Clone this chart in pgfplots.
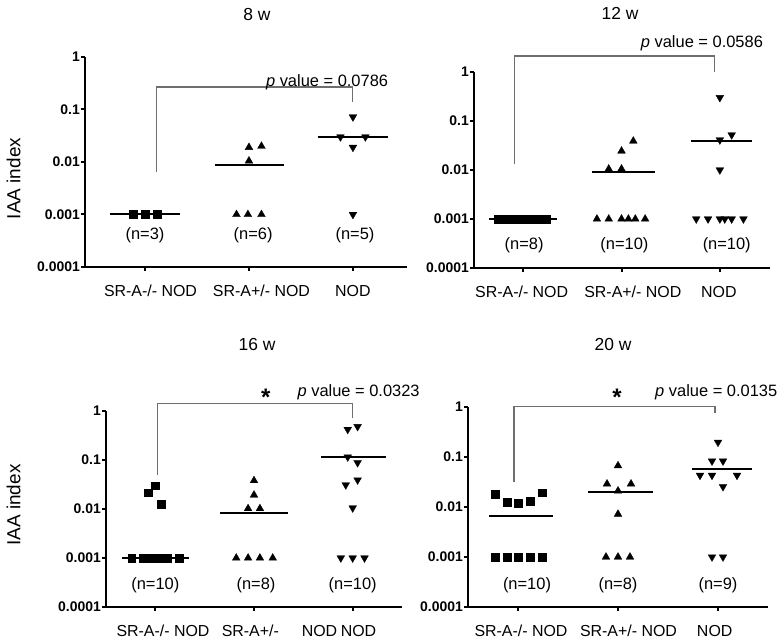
\documentclass[border=0pt]{standalone}
\usepackage{fontspec}
\setmainfont{Liberation Sans}
\usepackage{pgfplots}
\pgfplotsset{compat=1.18}
\definecolor{brk}{RGB}{110,110,110}
\newcommand{\lab}{\fontsize{16.5}{18}\selectfont}
\pgfplotsset{
    scale only axis,
    ymin=1e-4, ymax=1,
    ytick={1e-4,1e-3,1e-2,1e-1,1},
    yticklabels={0.0001,0.001,0.01,0.1,1},
    yticklabel style={font=\fontsize{14}{16}\selectfont\bfseries, inner sep=1bp},
    minor tick style={draw=none},
    xtick={0,1,2},
    xticklabel style={font=\fontsize{16}{18}\selectfont, inner sep=2bp, yshift=-12bp},
    axis x line=bottom, axis y line=left,
    axis line style={line width=2.2bp, -},
    tick align=outside,
    major tick length=4bp,
    major tick style={line width=2bp, black},
    clip=false,
    mysq/.style={only marks, mark=square*, mark size=3.9bp, black, mark options={line width=0.3bp}},
    myup/.style={only marks, mark=triangle*, mark size=4.5bp, black, mark options={line width=0.3bp}},
    mydn/.style={only marks, mark=triangle*, mark size=4.5bp, black, mark options={rotate=180, line width=0.3bp}},
    mymn/.style={no marks, black, line width=2bp},
}
\begin{document}
\begin{tikzpicture}
\useasboundingbox (0,0) rectangle (781bp,641bp);
% ---------------- 8 w
\begin{axis}[ymode=log, at={(85bp,374bp)}, anchor=south west, width=322bp, height=210bp, xmin=-0.577, xmax=2.52,
  xticklabels={\hspace*{11bp}SR-A-/- NOD, \hspace*{25bp}SR-A+/- NOD, NOD}]
\addplot[mysq] coordinates {(-0.115,0.001) (0,0.001) (0.115,0.001)};
\addplot[mymn] coordinates {(-0.34,0.001) (0.34,0.001)};
\addplot[myup] coordinates {(0.88,0.001) (0.99,0.001) (1.12,0.001) (1.0,0.0105) (1.0,0.019) (1.12,0.02)};
\addplot[mymn] coordinates {(0.67,0.0088) (1.34,0.0088)};
\addplot[mydn] coordinates {(2,0.072) (1.88,0.03) (2.12,0.03) (2,0.019) (2,0.001)};
\addplot[mymn] coordinates {(1.66,0.030) (2.34,0.030)};
\draw[brk, line width=1.1bp] (axis cs:0.115,0.0065) |- (axis cs:2,0.268) -- (axis cs:2,0.139);
\node[anchor=east, font=\lab, inner sep=0pt] at (axis cs:2.34,0.334) {\textit{p} value = 0.0786};
\node[font=\lab] at (axis cs:0,0.00041) {(n=3)};
\node[font=\lab] at (axis cs:1.04,0.00041) {(n=6)};
\node[font=\lab] at (axis cs:2.02,0.00041) {(n=5)};
\end{axis}
% ---------------- 12 w
\begin{axis}[ymode=log, at={(474bp,373bp)}, anchor=south west, width=296bp, height=196bp, xmin=-0.5, xmax=2.51,
  xticklabels={SR-A-/- NOD\hspace*{3bp}, \hspace*{22.6bp}SR-A+/- NOD, NOD\hspace*{2bp}}]
\addplot[mysq] coordinates {(-0.26,0.001) (-0.19,0.001) (-0.12,0.001) (-0.05,0.001) (0.02,0.001) (0.09,0.001) (0.16,0.001) (0.23,0.001)};
\addplot[mymn] coordinates {(-0.35,0.001) (0.34,0.001)};
\addplot[myup] coordinates {(0.75,0.001) (0.87,0.001) (1.0,0.001) (1.07,0.001) (1.14,0.001) (1.24,0.001) (0.87,0.0105) (1.0,0.0105) (1.0,0.0244) (1.12,0.039)};
\addplot[mymn] coordinates {(0.70,0.0091) (1.34,0.0091)};
\addplot[mydn] coordinates {(1.76,0.001) (1.88,0.001) (2.0,0.001) (2.05,0.001) (2.12,0.001) (2.24,0.001) (2.0,0.01) (2.0,0.041) (2.12,0.052) (2.0,0.30)};
\addplot[mymn] coordinates {(1.71,0.0396) (2.33,0.0396)};
\draw[brk, line width=1.1bp] (axis cs:-0.09,0.013) |- (axis cs:1.95,2.12) -- (axis cs:1.95,1.0);
\node[anchor=east, font=\lab, inner sep=0pt] at (axis cs:2.44,3.9) {\textit{p} value = 0.0586};
\node[font=\lab] at (axis cs:0.01,0.000295) {(n=8)};
\node[font=\lab] at (axis cs:1.03,0.000295) {(n=10)};
\node[font=\lab] at (axis cs:2.07,0.000295) {(n=10)};
\end{axis}
% ---------------- 16 w
\begin{axis}[ymode=log, at={(106bp,34bp)}, anchor=south west, width=296bp, height=196bp, xmin=-0.5, xmax=2.5,
  xticklabels={\hspace*{15.4bp}SR-A-/- NOD, \hspace*{51bp}SR-A+/-\hspace*{18.5bp} NOD, \hspace*{11.6bp}NOD}]
\addplot[mysq] coordinates {(-0.24,0.001) (-0.12,0.001) (-0.06,0.001) (0,0.001) (0.06,0.001) (0.12,0.001) (0.24,0.001) (-0.07,0.0215) (0,0.030) (0.06,0.0126)};
\addplot[mymn] coordinates {(-0.34,0.001) (0.34,0.001)};
\addplot[myup] coordinates {(0.82,0.001) (0.94,0.001) (1.06,0.001) (1.19,0.001) (0.94,0.0102) (1.06,0.0102) (1.0,0.0193) (1.0,0.038)};
\addplot[mymn] coordinates {(0.66,0.0084) (1.34,0.0084)};
\addplot[mydn] coordinates {(1.88,0.001) (2,0.001) (2.12,0.001) (2,0.0105) (1.93,0.031) (2.05,0.039) (1.95,0.115) (2.05,0.088) (1.95,0.42) (2.05,0.48)};
\addplot[mymn] coordinates {(1.68,0.117) (2.34,0.117)};
\draw[brk, line width=1.1bp] (axis cs:0.02,0.049) |- (axis cs:2,1.44) -- (axis cs:2,0.72);
\node[font=\fontsize{24}{24}\selectfont\bfseries] at (axis cs:1.12,1.9) {*};
\node[anchor=west, font=\lab, inner sep=0pt] at (axis cs:1.44,2.44) {\textit{p} value = 0.0323};
\node[font=\lab] at (axis cs:0,0.00028) {(n=10)};
\node[font=\lab] at (axis cs:1.02,0.00028) {(n=8)};
\node[font=\lab] at (axis cs:2.0,0.00028) {(n=10)};
\end{axis}
% ---------------- 20 w
\begin{axis}[ymode=log, at={(468bp,34bp)}, anchor=south west, width=300bp, height=200bp, xmin=-0.5, xmax=2.5,
  xticklabels={\hspace*{6bp}SR-A-/- NOD, \hspace*{21bp}SR-A+/- NOD, NOD\hspace*{6.6bp}}]
\addplot[mysq] coordinates {(-0.23,0.001) (-0.11,0.001) (0,0.001) (0.12,0.001) (0.24,0.001) (-0.23,0.018) (-0.11,0.0126) (0,0.012) (0.12,0.013) (0.24,0.0194)};
\addplot[mymn] coordinates {(-0.29,0.0066) (0.35,0.0066)};
\addplot[myup] coordinates {(0.88,0.001) (1,0.001) (1.12,0.001) (1,0.0072) (1,0.021) (0.89,0.029) (1.13,0.029) (1,0.067)};
\addplot[mymn] coordinates {(0.70,0.0197) (1.35,0.0197)};
\addplot[mydn] coordinates {(1.94,0.001) (2.05,0.001) (2.05,0.0255) (1.82,0.043) (1.94,0.043) (2.19,0.043) (1.94,0.083) (2.05,0.083) (2.0,0.197)};
\addplot[mymn] coordinates {(1.74,0.057) (2.34,0.057)};
\draw[brk, line width=1.1bp] (axis cs:-0.04,0.032) |- (axis cs:1.97,1.01) -- (axis cs:1.97,0.77);
\node[font=\fontsize{24}{24}\selectfont\bfseries] at (axis cs:0.99,1.6) {*};
\node[anchor=west, font=\lab, inner sep=0pt] at (axis cs:1.37,2.0) {\textit{p} value = 0.0135};
\node[font=\lab] at (axis cs:0.09,0.000275) {(n=10)};
\node[font=\lab] at (axis cs:1,0.000275) {(n=8)};
\node[font=\lab] at (axis cs:2,0.000275) {(n=9)};
\end{axis}
% titles and y labels
\node[font=\fontsize{17.5}{19}\selectfont] at (257bp,626bp) {8 w};
\node[font=\fontsize{17.5}{19}\selectfont] at (620bp,628bp) {12 w};
\node[font=\fontsize{17.5}{19}\selectfont] at (257bp,296bp) {16 w};
\node[font=\fontsize{17.5}{19}\selectfont] at (613bp,296bp) {20 w};
\node[rotate=90, font=\fontsize{19}{21}\selectfont] at (13.5bp,462.5bp) {IAA index};
\node[rotate=90, font=\fontsize{19}{21}\selectfont] at (13.5bp,136bp) {IAA index};
\end{tikzpicture}
\end{document}
